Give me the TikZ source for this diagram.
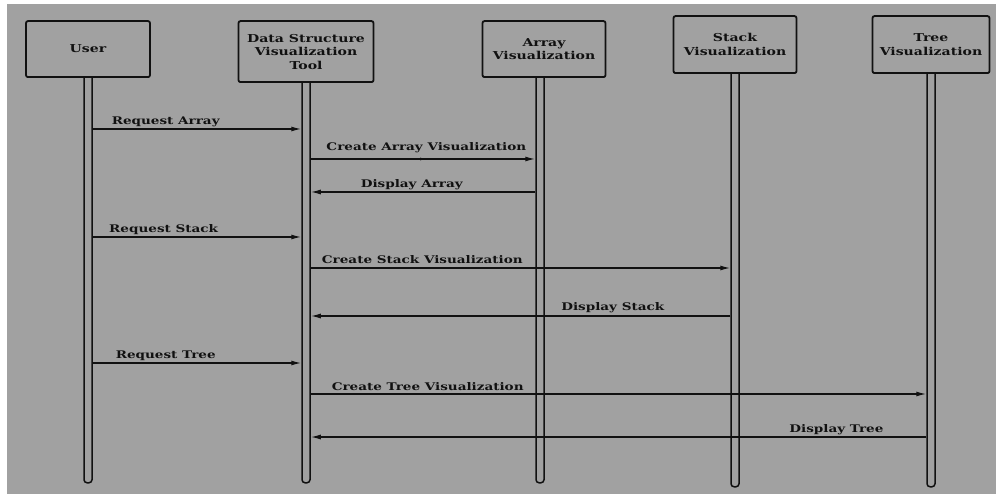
\documentclass[tikz,border=0pt]{standalone}
\usepackage{fontspec}
\setmainfont{DejaVu Serif}
\newfontfamily\widefont[FakeStretch=1.29]{DejaVu Serif}
\usetikzlibrary{arrows.meta, positioning, decorations.markings}
\definecolor{canvas}{RGB}{161,161,161}
\definecolor{ink}{RGB}{17,17,17}

\begin{document}
\begin{tikzpicture}[
    x=1pt, y=-1pt,
    actor/.style={draw=ink, line width=1.8pt, rounded corners=2pt, fill=canvas,
                  minimum height=56pt, inner sep=4pt, align=center, text=ink,
                  font=\widefont\fontsize{10.9}{13.5}\selectfont\bfseries},
    lifeline/.style={draw=ink, line width=1.5pt, rounded corners=3pt, fill=canvas,
                     minimum width=8pt, inner sep=0pt, anchor=north},
    msg/.style={draw=ink, line width=1.3pt, -{Latex[length=10pt,width=5pt]}},
    lbl/.style={anchor=base, yshift=4pt, inner sep=0pt, text=ink,
                font=\widefont\fontsize{10.5}{12}\selectfont\bfseries}
]
    % page with a thin white margin at top and left
    \useasboundingbox (0,0) rectangle (996,494);
    \fill[white] (0,0) rectangle (996,494);
    \fill[canvas] (7,4) rectangle (996,494);

    % lifelines: name/x/top/bottom
    \foreach \name/\x/\ytop/\ybot in {userL/88/74/482, toolL/306/79/482, arrayL/540/74/482,
                                      stackL/735/70/486, treeL/931/70/486}{
        \pgfmathsetmacro\len{\ybot-\ytop}
        \node[lifeline, minimum height=\len pt] (\name) at (\x,\ytop) {};
    }

    % participants sit on top of their lifelines
    \node[actor, minimum width=124pt, above=-4pt of userL] (user) {User};
    \node[actor, minimum width=135pt, minimum height=61pt, above=-4pt of toolL] (tool) {Data Structure\\Visualization\\Tool};
    \node[actor, minimum width=123pt, above=-4pt of arrayL, xshift=4pt] (array) {Array\\Visualization};
    \node[actor, minimum width=123pt, minimum height=57pt, above=-4pt of stackL] (stack) {Stack\\Visualization};
    \node[actor, minimum width=117pt, minimum height=57pt, above=-4pt of treeL] (tree) {Tree\\Visualization};

    % message rows
    \foreach \row/\y in {r1/129, r2/159, r3/192, r4/237, r5/268, r6/316, r7/363, r8/394, r9/437}
        \coordinate (\row) at (0,\y);

    \draw[msg] (userL.east |- r1) -- (toolL.west |- r1) node[lbl, pos=.35] {Request Array};
    \draw[msg, postaction={decorate},
          decoration={markings, mark=at position .51 with {\arrow{Latex[length=5pt,width=3pt]}}}]
        (toolL.east |- r2) -- (arrayL.west |- r2) node[lbl, pos=.515, yshift=4pt] {Create Array Visualization};
    \draw[msg] (arrayL.west |- r3) -- (toolL.east |- r3) node[lbl, pos=.55] {Display Array};

    \draw[msg] (userL.east |- r4) -- (toolL.west |- r4) node[lbl, pos=.34] {Request Stack};
    \draw[msg] (toolL.east |- r5) -- (stackL.west |- r5) node[lbl, pos=.266] {Create Stack Visualization};
    \draw[msg] (stackL.west |- r6) -- (toolL.east |- r6) node[lbl, pos=.28, yshift=1pt] {Display Stack};

    \draw[msg] (userL.east |- r7) -- (toolL.west |- r7) node[lbl, pos=.35] {Request Tree};
    \draw[msg] (toolL.east |- r8) -- (treeL.west |- r8) node[lbl, pos=.19] {Create Tree Visualization};
    \draw[msg] (treeL.west |- r9) -- (toolL.east |- r9) node[lbl, pos=.146, yshift=1pt] {Display Tree};
\end{tikzpicture}
\end{document}
